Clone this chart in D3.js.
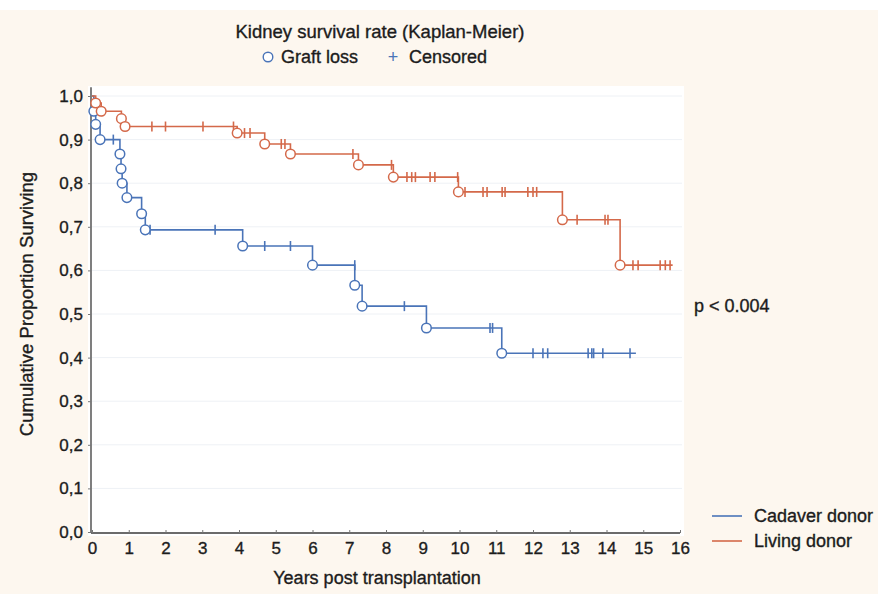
<!DOCTYPE html>
<html>
<head>
<meta charset="utf-8">
<script src="https://cdn.jsdelivr.net/npm/d3@7"></script>
<style>
  html, body { margin: 0; padding: 0; background: #ffffff; }
  svg { display: block; }
  text { font-family: "Liberation Sans", Arial, sans-serif; fill: #1c1c1c; stroke: #1c1c1c; stroke-width: 0.35px; }
</style>
</head>
<body>
<svg id="chart" width="878" height="594"></svg>
<script>
// ---- data ----
const xTicks = [0,1,2,3,4,5,6,7,8,9,10,11,12,13,14,15,16];
const yTicks = [0,0.1,0.2,0.3,0.4,0.5,0.6,0.7,0.8,0.9,1.0];

// Cadaver donor: graft loss events (time, survival after event)
const cadaverLossTime = [0.05, 0.1, 0.22, 0.76, 0.79, 0.82, 0.95, 1.35, 1.45, 4.1, 6.0, 7.15, 7.35, 9.1, 11.15];
const cadaverLossSurv = [0.965, 0.935, 0.90, 0.867, 0.833, 0.80, 0.767, 0.73, 0.693, 0.656, 0.612, 0.566, 0.518, 0.468, 0.41];
const cadaverCensored = [0.58, 1.58, 3.35, 4.7, 5.4, 7.15, 8.5, 10.83, 10.9, 12.0, 12.27, 12.4, 13.5, 13.6, 13.65, 13.9, 14.64];
const cadaverEnd = 14.8;

// Living donor
const livingLossTime = [0.1, 0.25, 0.8, 0.9, 3.95, 4.7, 5.4, 7.25, 8.2, 9.97, 12.8, 14.37];
const livingLossSurv = [0.984, 0.965, 0.948, 0.93, 0.915, 0.89, 0.867, 0.842, 0.814, 0.78, 0.716, 0.612];
const livingCensored = [0.27, 1.63, 2.0, 3.02, 3.85, 4.15, 4.3, 5.15, 5.25, 7.1, 8.15, 8.57, 8.7, 8.8, 9.2, 9.33, 9.95,
  10.15, 10.64, 10.75, 11.16, 11.24, 11.86, 12.0, 12.1, 13.2, 13.96, 14.04, 14.72, 14.86, 15.46, 15.6, 15.73];
const livingEnd = 15.8;

const seriesNames = ["Cadaver donor", "Living donor"];
const seriesColors = ["#4a74b8", "#d4694a"];

// ---- layout ----
const svg = d3.select("#chart");
const W = 878, H = 594;
svg.append("rect").attr("x",0).attr("y",0).attr("width",W).attr("height",H).attr("fill","#ffffff");
svg.append("rect").attr("x",0).attr("y",10).attr("width",W).attr("height",H-10).attr("fill","#fdf7ef");
svg.append("rect").attr("x",88).attr("y",86).attr("width",596).attr("height",450).attr("fill","#ffffff");

const x = d3.scaleLinear().domain([0,16]).range([92,680]);
const y = d3.scaleLinear().domain([0,1]).range([532,96]);

// faint gridlines
svg.append("g").selectAll("line").data(yTicks.slice(1)).join("line")
  .attr("x1", x(0)).attr("x2", 682)
  .attr("y1", d => y(d)).attr("y2", d => y(d))
  .attr("stroke", "#eef1f5").attr("stroke-width", 1);

// axes
const fmt = d => d3.format(".1f")(d).replace(".", ",");
const yAxis = svg.append("g").attr("transform", `translate(${x(0)-1},0)`)
  .call(d3.axisLeft(y).tickValues(yTicks).tickFormat(fmt).tickSize(3).tickPadding(5));
const xAxis = svg.append("g").attr("transform", `translate(0,${y(0)+1})`)
  .call(d3.axisBottom(x).tickValues(xTicks).tickFormat(d3.format("d")).tickSize(3).tickPadding(6));
xAxis.selectAll(".tick line").attr("y2", -3);
[xAxis, yAxis].forEach(g => {
  g.select(".domain").attr("stroke", "#3a3a3a").attr("stroke-width", 1.3);
  g.selectAll(".tick line").attr("stroke", "#777");
  g.selectAll(".tick text").attr("font-size", 17).attr("fill", "#1c1c1c")
    .attr("font-family", "'Liberation Sans', Arial, sans-serif");
});
yAxis.select(".domain").attr("d", `M0,${y(1.02)}V${y(0)}`);
xAxis.select(".domain").attr("d", `M${x(0)-1},0H${x(16)}`);

// KM curves
function stepPoints(times, surv, end) {
  const pts = [[0, 1]];
  times.forEach((t, i) => pts.push([t, surv[i]]));
  pts.push([end, surv[surv.length - 1]]);
  return pts;
}
function survAt(times, surv, t) {
  let s = 1;
  times.forEach((tt, i) => { if (tt < t) s = surv[i]; });
  return s;
}
const line = d3.line().x(d => x(d[0])).y(d => y(d[1])).curve(d3.curveStepAfter);

const series = [
  { times: cadaverLossTime, surv: cadaverLossSurv, cens: cadaverCensored, end: cadaverEnd, color: seriesColors[0] },
  { times: livingLossTime, surv: livingLossSurv, cens: livingCensored, end: livingEnd, color: seriesColors[1] }
];

series.forEach(s => {
  const g = svg.append("g");
  g.append("path").datum(stepPoints(s.times, s.surv, s.end))
    .attr("d", line).attr("fill", "none").attr("stroke", s.color).attr("stroke-width", 1.6);
  g.selectAll("line.cens").data(s.cens).join("line").attr("class", "cens")
    .attr("x1", d => x(d)).attr("x2", d => x(d))
    .attr("y1", d => y(survAt(s.times, s.surv, d)) - 5)
    .attr("y2", d => y(survAt(s.times, s.surv, d)) + 5)
    .attr("stroke", s.color).attr("stroke-width", 1.6);
  g.selectAll("circle").data(s.times.map((t, i) => [t, s.surv[i]])).join("circle")
    .attr("cx", d => x(d[0])).attr("cy", d => y(d[1])).attr("r", 4.8)
    .attr("fill", "#ffffff").attr("stroke", s.color).attr("stroke-width", 1.5);
});

// titles
svg.append("text").attr("x", 380).attr("y", 38).attr("text-anchor", "middle")
  .attr("font-size", 18.5).text("Kidney survival rate (Kaplan-Meier)");
svg.append("circle").attr("cx", 268).attr("cy", 57).attr("r", 4.8)
  .attr("fill", "#fff").attr("stroke", seriesColors[0]).attr("stroke-width", 1.4);
svg.append("text").attr("x", 281).attr("y", 63).attr("font-size", 18).text("Graft loss");
svg.append("text").attr("x", 393).attr("y", 63).attr("text-anchor", "middle")
  .attr("font-size", 18).style("fill", seriesColors[0]).style("stroke", "none").text("+");
svg.append("text").attr("x", 409).attr("y", 63).attr("font-size", 18).text("Censored");

svg.append("text").attr("transform", "translate(33,304) rotate(-90)").attr("text-anchor", "middle")
  .attr("font-size", 18.5).text("Cumulative Proportion Surviving");
svg.append("text").attr("x", 377).attr("y", 584).attr("text-anchor", "middle")
  .attr("font-size", 18).text("Years post transplantation");

svg.append("text").attr("x", 694).attr("y", 312).attr("font-size", 18).text("p < 0.004");

// legend
const leg = svg.append("g");
seriesNames.forEach((n, i) => {
  leg.append("line").attr("x1", 712).attr("x2", 742).attr("y1", 516 + i*25).attr("y2", 516 + i*25)
    .attr("stroke", seriesColors[i]).attr("stroke-width", 1.6);
  leg.append("text").attr("x", 754).attr("y", 522 + i*25).attr("font-size", 18).text(n);
});
</script>
</body>
</html>
